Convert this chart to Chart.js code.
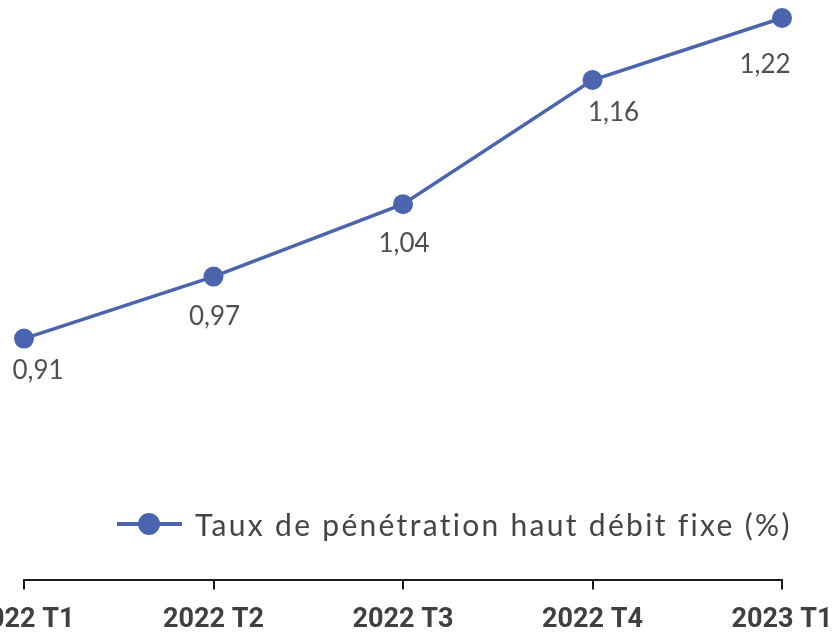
<!DOCTYPE html>
<html lang="fr">
<head>
<meta charset="utf-8">
<title>Taux de pénétration haut débit fixe</title>
<script src="https://cdn.jsdelivr.net/npm/chart.js@4.4.1/dist/chart.umd.min.js"></script>
<style>
  html, body { margin: 0; padding: 0; background: #fff; overflow: hidden; }
  #page { position: relative; width: 833px; height: 634px; overflow: hidden; }
  #chart { position: absolute; left: -100px; top: 0; }
  #legend {
    position: absolute; left: 117px; top: 506px; height: 36px;
    display: flex; align-items: center;
    font-family: Lato, 'Open Sans', sans-serif; font-size: 30px; color: #454545;
    letter-spacing: 2.3px; white-space: nowrap;
  }
  #legend .mark { position: relative; width: 65px; height: 36px; margin-right: 13px; }
  #legend .mark::before {
    content: ''; position: absolute; left: 0; right: 0; top: 16px; height: 4px; background: #4a64ae;
  }
  #legend .mark::after {
    content: ''; position: absolute; left: 21px; top: 7px; width: 22px; height: 22px;
    border-radius: 50%; background: #4a64ae;
  }
</style>
</head>
<body>
<div id="page">
  <canvas id="chart" width="1033" height="650"></canvas>
  <div id="legend"><span class="mark"></span><span id="legendText"></span></div>
</div>
<script>
  const quarters = ['2022 T1', '2022 T2', '2022 T3', '2022 T4', '2023 T1'];
  const penetration = [0.91, 0.97, 1.04, 1.16, 1.22];
  const seriesName = 'Taux de pénétration haut débit fixe (%)';

  // décalage manuel des étiquettes (comme dans l'original)
  const labelDx = [14, 1, 1, 21, -17];
  const labelDy = [32, 40, 39, 33, 47];

  const BLUE = '#4a64ae';

  document.getElementById('legendText').textContent = seriesName;

  const valueLabels = {
    id: 'valueLabels',
    afterDatasetsDraw(chart) {
      const ctx = chart.ctx;
      const meta = chart.getDatasetMeta(0);
      ctx.save();
      ctx.font = '26px Lato, "Open Sans", sans-serif';
      ctx.fillStyle = '#505050';
      ctx.textAlign = 'center';
      ctx.textBaseline = 'middle';
      meta.data.forEach((pt, i) => {
        const txt = penetration[i].toFixed(2).replace('.', ',');
        ctx.fillText(txt, pt.x + labelDx[i], pt.y + labelDy[i]);
      });
      ctx.restore();
    }
  };

  new Chart(document.getElementById('chart'), {
    type: 'line',
    data: {
      labels: quarters,
      datasets: [{
        label: seriesName,
        data: penetration,
        borderColor: BLUE,
        backgroundColor: BLUE,
        borderWidth: 3.5,
        pointRadius: 10,
        pointHoverRadius: 10,
        pointBackgroundColor: BLUE,
        pointBorderWidth: 0,
        tension: 0,
        fill: false,
        clip: false
      }]
    },
    options: {
      responsive: false,
      animation: false,
      layout: { autoPadding: false, padding: { left: 124, right: 151, top: 0, bottom: 0 } },
      plugins: {
        legend: { display: false },
        tooltip: { enabled: false }
      },
      scales: {
        x: {
          offset: false,
          border: { display: true, color: '#1a1a1a', width: 2 },
          grid: { display: true, drawOnChartArea: false, drawTicks: true, tickLength: 10, color: '#1a1a1a', lineWidth: 2 },
          ticks: {
            padding: 14,
            maxRotation: 0,
            autoSkip: false,
            color: '#404040',
            font: { family: 'Roboto', weight: 'bold', size: 27 }
          }
        },
        y: {
          display: false,
          min: 0.677,
          max: 1.2374
        }
      }
    },
    plugins: [valueLabels]
  });
</script>
</body>
</html>
